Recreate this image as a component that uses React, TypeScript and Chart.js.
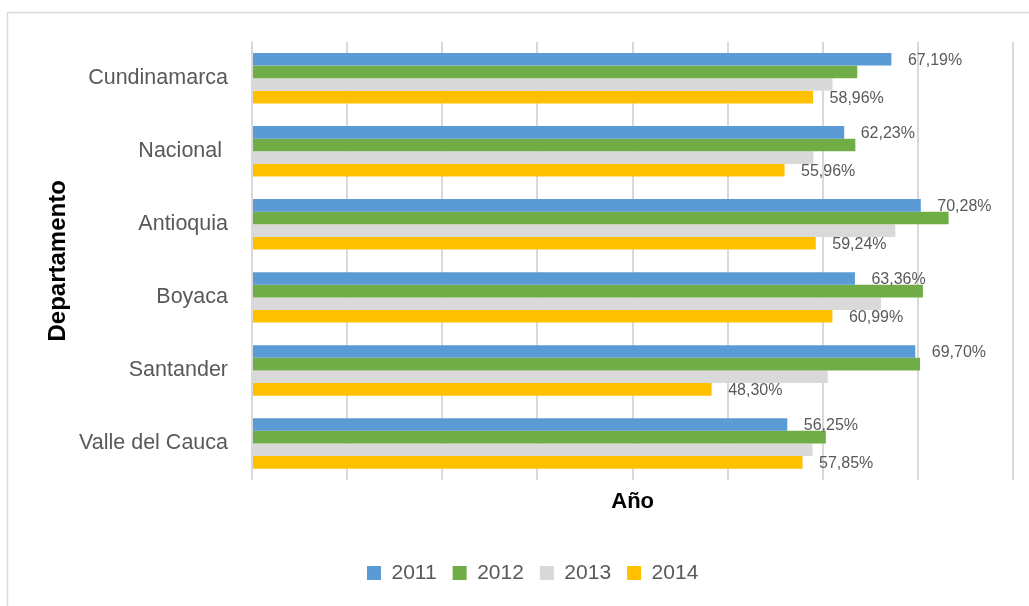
import React, { useEffect, useRef } from "react";
import { Chart, registerables } from "chart.js";

Chart.register(...registerables);

const categories = ["Cundinamarca", "Nacional ", "Antioquia", "Boyaca", "Santander", "Valle del Cauca"];
const seriesNames = ["2011", "2012", "2013", "2014"];
const values2011 = [67.19, 62.23, 70.28, 63.36, 69.7, 56.25];
const values2012 = [63.6, 63.4, 73.2, 70.5, 70.2, 60.3];
const values2013 = [61.0, 59.0, 67.6, 66.1, 60.5, 58.9];
const values2014 = [58.96, 55.96, 59.24, 60.99, 48.3, 57.85];
const seriesColors = ["#5b9bd5", "#70ad47", "#d9d9d9", "#ffc000"];
const labeledSeries = [0, 3];
const xMin = 0;
const xMax = 80;
const xStep = 10;
const yTitle = "Departamento";
const xTitle = "Año";

const FONT = '"Liberation Sans", Arial, sans-serif';

const borderPlugin = {
  id: "outerBorder",
  beforeDraw(chart: any) {
    const ctx = chart.ctx;
    ctx.save();
    ctx.strokeStyle = "#d9d9d9";
    ctx.lineWidth = 1.5;
    ctx.strokeRect(7.5, 12.5, 1200, 800);
    ctx.restore();
  },
};

const dataLabelPlugin = {
  id: "barValueLabels",
  afterDatasetsDraw(chart: any) {
    const ctx = chart.ctx;
    ctx.save();
    ctx.font = "16px " + FONT;
    ctx.fillStyle = "#595959";
    ctx.textAlign = "left";
    ctx.textBaseline = "middle";
    labeledSeries.forEach((di) => {
      const meta = chart.getDatasetMeta(di);
      meta.data.forEach((bar: any, i: number) => {
        const v = chart.data.datasets[di].data[i] as number;
        const text = v.toFixed(2).replace(".", ",") + "%";
        ctx.fillText(text, bar.x + 16.5, bar.y + 1.5);
      });
    });
    ctx.restore();
  },
};

export default function App() {
  const ref = useRef<HTMLCanvasElement | null>(null);

  useEffect(() => {
    if (!ref.current) return;
    Chart.defaults.font.family = FONT;
    const seriesValues = [values2011, values2012, values2013, values2014];
    const chart = new Chart(ref.current, {
      type: "bar",
      data: {
        labels: categories,
        datasets: seriesNames.map((name, i) => ({
          label: name,
          data: seriesValues[i],
          backgroundColor: seriesColors[i],
          borderWidth: 0,
          categoryPercentage: 0.69,
          barPercentage: 1,
        })),
      },
      options: {
        indexAxis: "y",
        responsive: false,
        animation: false,
        layout: { padding: { left: 52, right: 15.7, top: 41.7, bottom: 12.5 } },
        plugins: {
          legend: {
            position: "bottom",
            labels: {
              boxWidth: 14,
              boxHeight: 14,
              padding: 16,
              color: "#595959",
              font: { size: 21, family: FONT },
            },
          },
          tooltip: { enabled: false },
        },
        scales: {
          x: {
            min: xMin,
            max: xMax,
            ticks: { display: false, stepSize: xStep },
            grid: { color: "#d9d9d9", lineWidth: 2, drawTicks: false },
            border: { display: false },
            title: {
              display: true,
              text: xTitle,
              color: "#000000",
              font: { size: 22, weight: "bold", family: FONT },
              padding: { top: 0, bottom: 31.3 },
            },
            afterFit: (scale: any) => {
              scale.height = 66.5;
            },
          },
          y: {
            grid: { display: false },
            border: { display: false },
            ticks: {
              color: "#595959",
              padding: 16,
              font: { size: 21.5, family: FONT },
            },
            title: {
              display: true,
              text: yTitle,
              color: "#000000",
              font: { size: 24, weight: "bold", family: FONT },
              padding: { top: -7.9, bottom: 0 },
            },
            afterFit: (scale: any) => {
              scale.width = 200;
            },
          },
        },
      },
      plugins: [borderPlugin, dataLabelPlugin],
    } as any);
    return () => chart.destroy();
  }, []);

  return (
    <div style={{ position: "fixed", left: 0, top: 0, width: 1029, height: 606, background: "#ffffff" }}>
      <canvas ref={ref} width={1029} height={606} style={{ display: "block", width: 1029, height: 606 }} />
    </div>
  );
}
